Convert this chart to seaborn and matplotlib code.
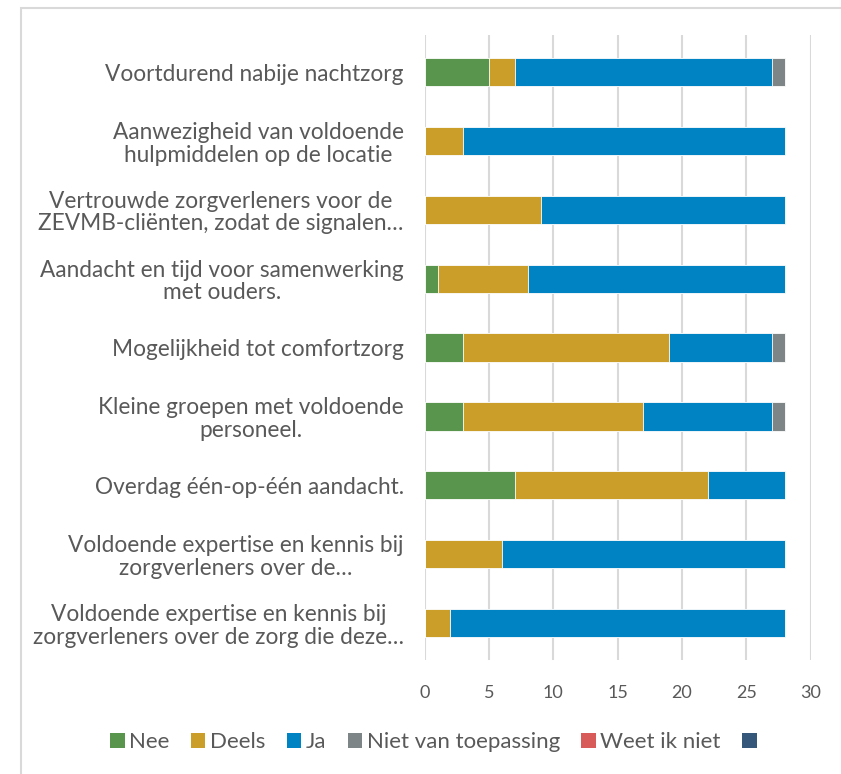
import numpy as np
import pandas as pd
import matplotlib
matplotlib.use("Agg")
import matplotlib.pyplot as plt
from matplotlib.patches import Patch, Rectangle
import seaborn as sns

categories = [
    "Voortdurend nabije nachtzorg",
    "Aanwezigheid van voldoende\nhulpmiddelen op de locatie",
    "Vertrouwde zorgverleners voor de\nZEVMB-cliënten, zodat de signalen…",
    "Aandacht en tijd voor samenwerking\nmet ouders.",
    "Mogelijkheid tot comfortzorg",
    "Kleine groepen met voldoende\npersoneel.",
    "Overdag één-op-één aandacht.",
    "Voldoende expertise en kennis bij\nzorgverleners over de…",
    "Voldoende expertise en kennis bij\nzorgverleners over de zorg die deze…",
]
nee = [5, 0, 0, 1, 3, 3, 7, 0, 0]
deels = [2, 3, 9, 7, 16, 14, 15, 6, 2]
ja = [20, 25, 19, 20, 8, 10, 6, 22, 26]
niet_van_toepassing = [1, 0, 0, 0, 1, 1, 0, 0, 0]
weet_ik_niet = [0, 0, 0, 0, 0, 0, 0, 0, 0]
overig = [0, 0, 0, 0, 0, 0, 0, 0, 0]

series_names = ["Nee", "Deels", "Ja", "Niet van toepassing", "Weet ik niet", ""]
colors = ["#5A954E", "#CA9E29", "#0083C3", "#7E8587", "#D95B59", "#35587A"]

df = pd.DataFrame({"cat": categories, "Nee": nee, "Deels": deels, "Ja": ja,
                   "Niet van toepassing": niet_van_toepassing,
                   "Weet ik niet": weet_ik_niet, "": overig})

sns.set_theme(style="white")
plt.rcParams["font.family"] = ["Lato", "DejaVu Sans"]
txt = "#595959"

fig = plt.figure(figsize=(8.41, 7.74), dpi=100)
ax = fig.add_axes([0.505, 0.147, 0.459, 0.808])

# stacked bars: draw cumulative totals, largest first
cum = df[series_names].cumsum(axis=1)
for name, col in reversed(list(zip(series_names, colors))):
    sns.barplot(data=cum.assign(cat=df["cat"]), x=name, y="cat", orient="h",
                color=col, width=0.41, edgecolor="white", linewidth=0.6,
                saturation=1, ax=ax, zorder=3)

ax.set_xlim(0, 30)
ax.set_ylim(8.54, -0.54)
ax.set_xticks(range(0, 31, 5))
ax.grid(axis="x", color="#D9D9D9", linewidth=1.5, zorder=0)
ax.set_axisbelow(True)
for s in ax.spines.values():
    s.set_visible(False)
ax.set_xlabel("")
ax.set_ylabel("")
ax.tick_params(axis="x", length=0, pad=18, labelsize=13, labelcolor=txt)
ax.tick_params(axis="y", length=0, pad=15, labelsize=16.3, labelcolor=txt)
for lab in ax.get_yticklabels():
    lab.set_multialignment("center")
    lab.set_linespacing(1.1)

handles = [Patch(facecolor=c, edgecolor="none") for c in colors]
fig.legend(handles, series_names, loc="center", bbox_to_anchor=(0.518, 0.041),
           ncol=6, frameon=False, fontsize=16, labelcolor=txt,
           handlelength=0.65, handleheight=0.65, handletextpad=0.2,
           columnspacing=0.97)

# outer chart border
fig.add_artist(Rectangle((21 / 841, -0.05), 1.1, 1 - 8 / 774 + 0.05,
                         transform=fig.transFigure, fill=False,
                         edgecolor="#D9D9D9", linewidth=1.5, clip_on=False))

fig.savefig("out.png", dpi=100)
